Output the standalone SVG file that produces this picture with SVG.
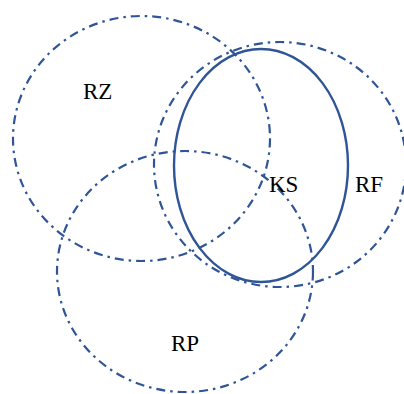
<svg xmlns="http://www.w3.org/2000/svg" width="404" height="394" viewBox="0 0 404 394">
<style>
.dd{fill:none;stroke:#2F5597;stroke-width:2.2;stroke-dasharray:9 5 2.5 5}
.sol{fill:none;stroke:#2F5597;stroke-width:2.4}
text{font-family:"Liberation Serif","Times New Roman",serif;font-size:23px;fill:#000}
</style>
<rect width="404" height="394" fill="#fff"/>
<g id="RZ"><ellipse class="dd" cx="141.5" cy="138.5" rx="128.5" ry="122.5"/><text x="83" y="99">RZ</text></g>
<g id="RF"><ellipse class="dd" cx="280" cy="164.5" rx="126" ry="122.5"/><text x="355" y="192">RF</text></g>
<g id="RP"><ellipse class="dd" cx="185" cy="271.5" rx="128" ry="120.5"/><text x="171" y="351">RP</text></g>
<g id="KS"><ellipse class="sol" cx="261" cy="165.5" rx="87" ry="116.5"/><text x="269" y="192">KS</text></g>
<g id="connectors"/>
</svg>
